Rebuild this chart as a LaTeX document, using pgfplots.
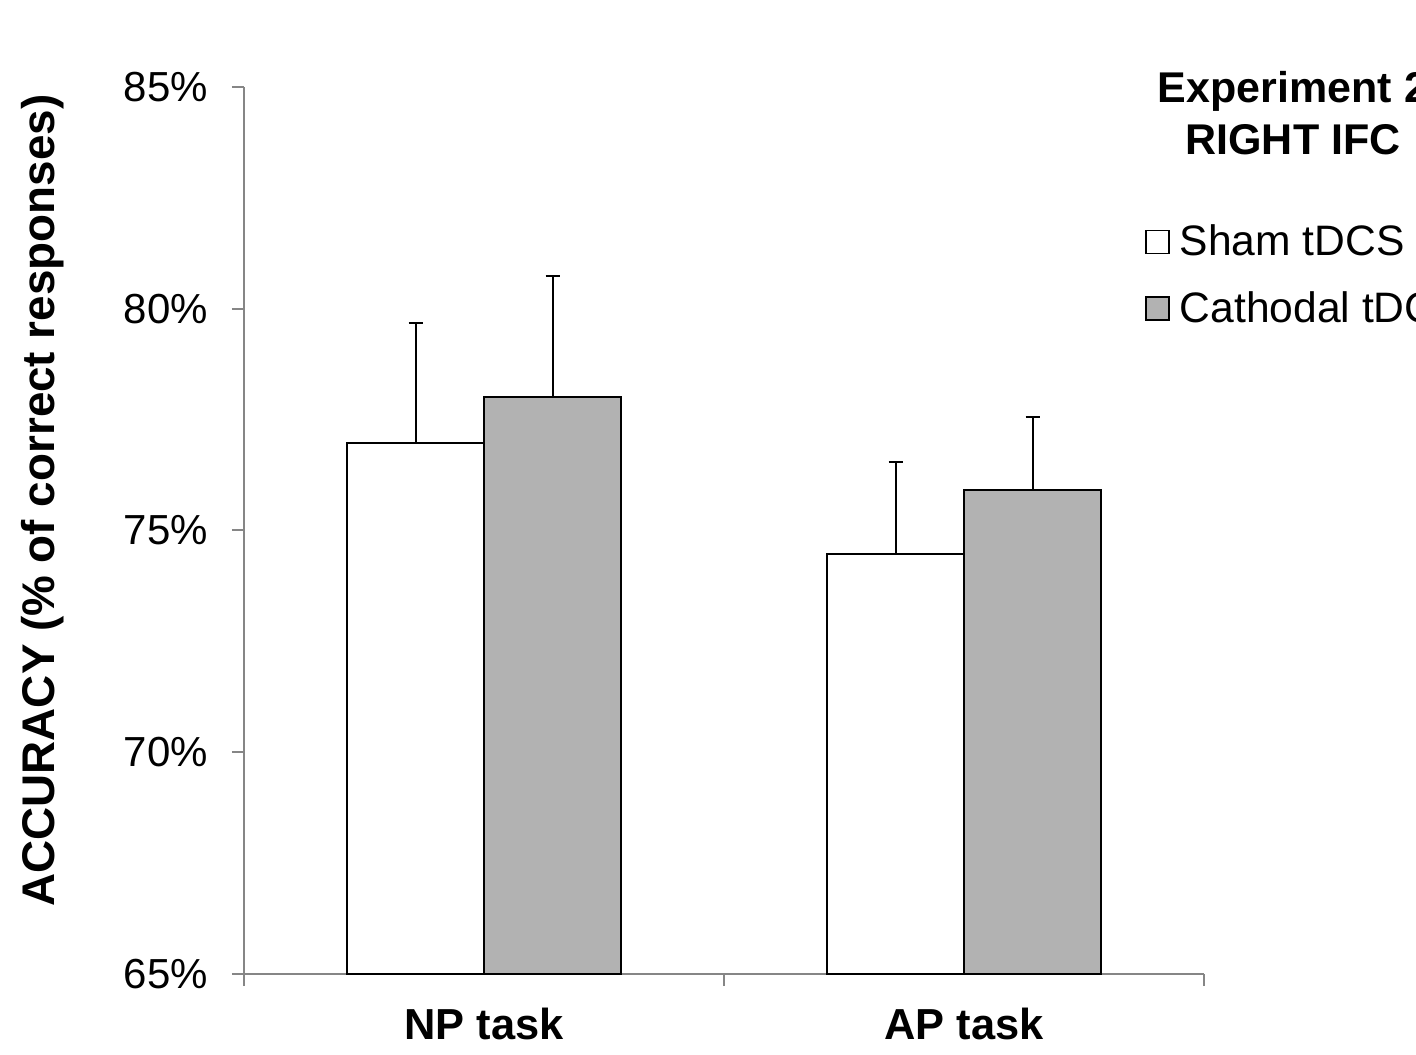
\documentclass[border=0pt]{standalone}
\usepackage{pgfplots}
\pgfplotsset{compat=1.18}
\usepackage{fontspec}
\setmainfont{Liberation Sans}
\definecolor{axisgray}{HTML}{868686}
\definecolor{bargray}{HTML}{B2B2B2}
\pgfplotsset{sqlegend/.style={legend image code/.code={\draw[##1, line width=0.8pt] (0pt,-5.75pt) rectangle (11.5pt,5.75pt); \path (14.5pt,0pt);}}}
\begin{document}
\begin{tikzpicture}
\path[use as bounding box] (-122pt,-40pt) rectangle (586pt,487pt);
\clip (-122pt,-40pt) rectangle (586pt,487pt);
\begin{axis}[
  at={(0,0)}, anchor=south west,
  scale only axis, width=480pt, height=443.5pt,
  xmin=-0.5, xmax=1.5, ymin=65, ymax=85,
  axis x line*=bottom, axis y line*=left,
  axis line style={-, axisgray, line width=1pt},
  ytick={65,70,75,80,85},
  yticklabels={65\%,70\%,75\%,80\%,85\%},
  xtick={-0.5,0.5,1.5}, xticklabels={},
  extra x ticks={0,1},
  extra x tick labels={NP task, AP task},
  extra x tick style={major tick length=0pt},
  tick align=outside, major tick length=6pt,
  tick style={axisgray, line width=1pt},
  ybar=0pt, bar width=68.5pt,
  clip=false,
  yticklabel style={font=\fontsize{21}{25}\selectfont, text=black, xshift=-8.5pt},
  xticklabel style={font=\bfseries\fontsize{21.7}{26}\selectfont, text=black, yshift=-13.5pt},
  ylabel={ACCURACY (\% of correct responses)},
  ylabel style={at={(axis description cs:-0.1969,0.5338)}, anchor=base, font=\bfseries\fontsize{22.9}{27}\selectfont},
  legend style={at={(axis description cs:0.9319,0.854)}, anchor=north west, draw=none, fill=none,
    font=\fontsize{21.3}{25}\selectfont, row sep=12.5pt, legend cell align=left},
]
\addplot[fill=white, draw=black, line width=1pt, sqlegend,
  error bars/.cd, y dir=plus, y explicit, error mark=-,
  error bar style={black, line width=1pt},
  error mark options={rotate=90, black, line width=1pt, mark size=3.5pt}]
  coordinates {(0,76.97) +- (0,2.71) (1,74.47) +- (0,2.07)};
\addplot[fill=bargray, draw=black, line width=1pt, sqlegend,
  error bars/.cd, y dir=plus, y explicit, error mark=-,
  error bar style={black, line width=1pt},
  error mark options={rotate=90, black, line width=1pt, mark size=3.5pt}]
  coordinates {(0,78.00) +- (0,2.74) (1,75.91) +- (0,1.65)};
\legend{Sham tDCS, Cathodal tDCS}
\end{axis}
\node[anchor=base, font=\bfseries\fontsize{21.5}{25}\selectfont] at (524.5pt,435.5pt) {Experiment 2};
\node[anchor=base, font=\bfseries\fontsize{21.5}{25}\selectfont] at (524.5pt,409.5pt) {RIGHT IFC};
\end{tikzpicture}
\end{document}
